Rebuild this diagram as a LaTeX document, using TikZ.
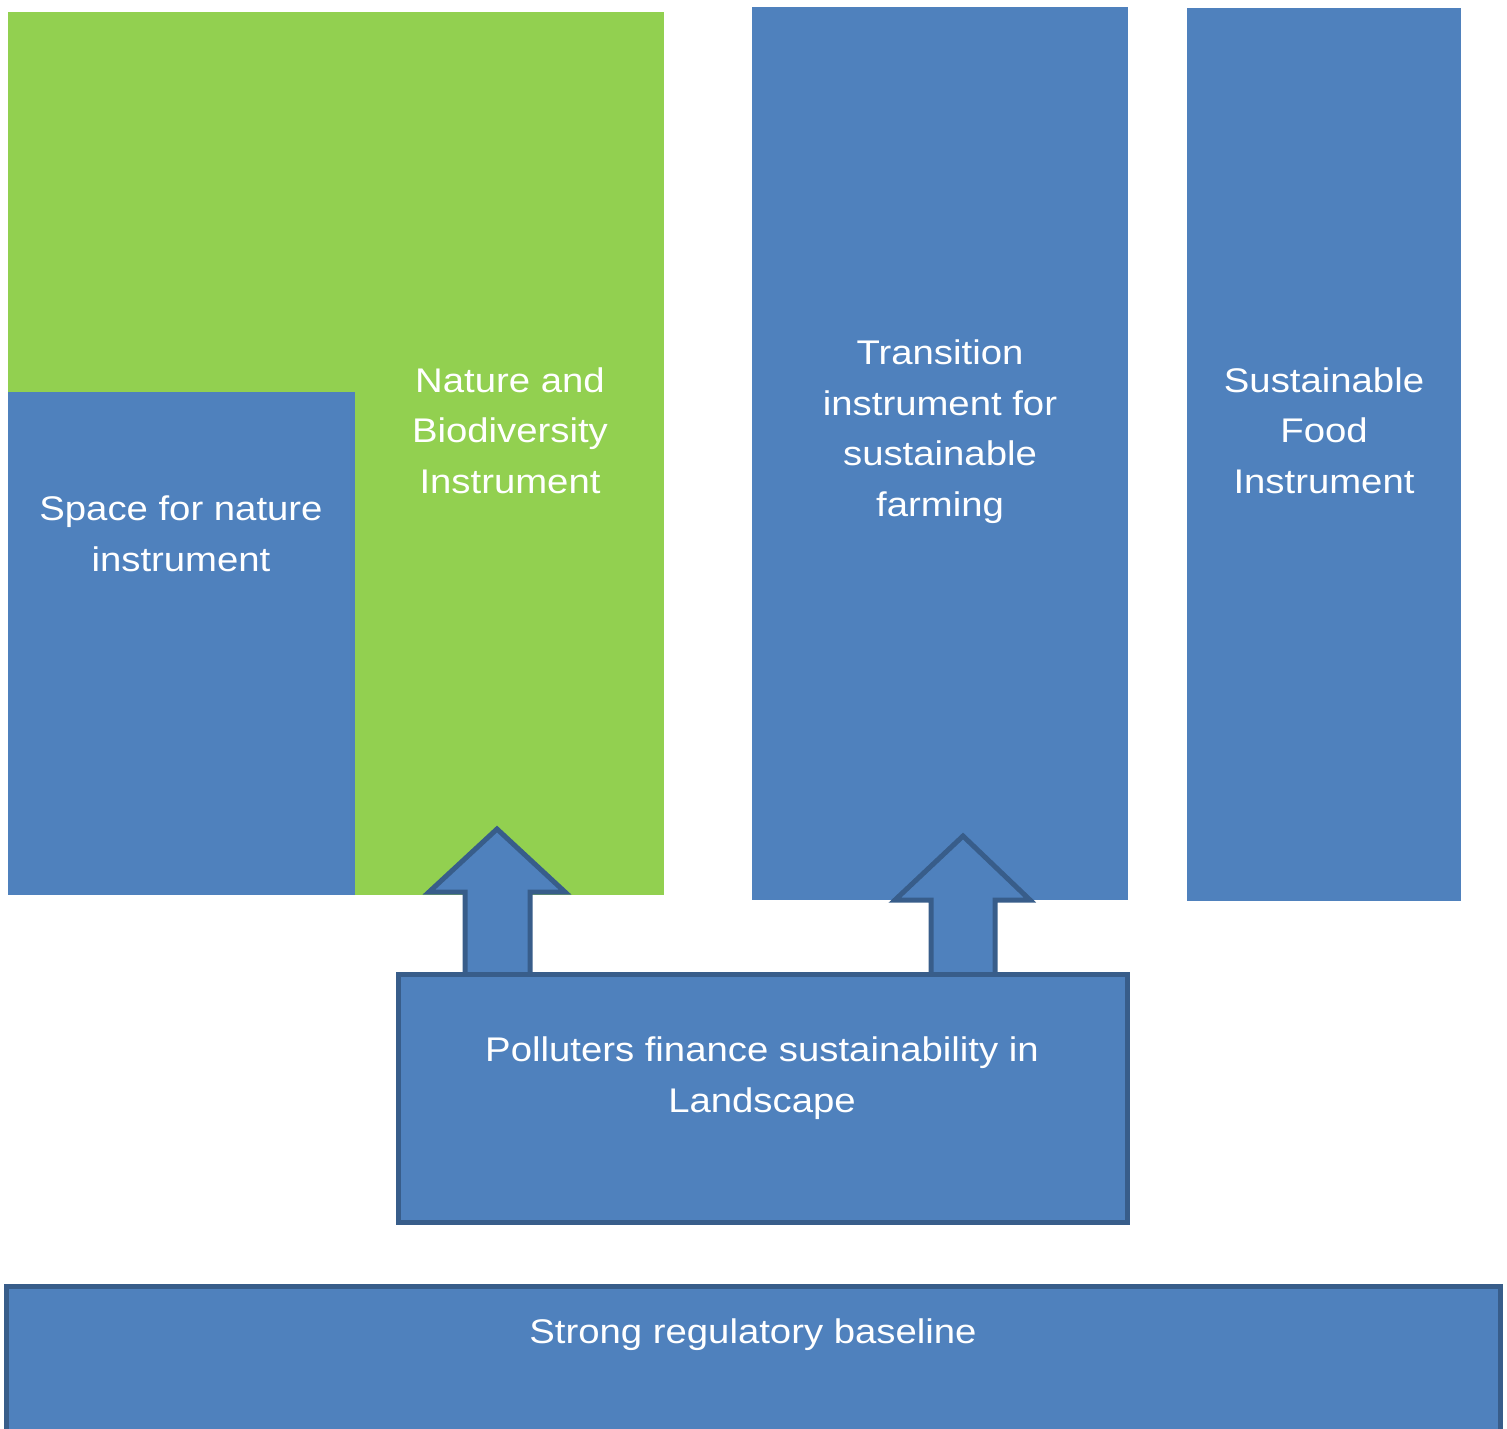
\documentclass[tikz,border=0pt]{standalone}
\usepackage{fontspec}
\setmainfont{Liberation Sans}[FakeStretch=1.12]
\begin{document}
\begin{tikzpicture}[x=1pt,y=-1pt,
  fillblue/.style={fill=instblue,draw=none},
  fillgreen/.style={fill=instgreen,draw=none},
  framed/.style={fill=instblue,draw=edgeblue,line width=5pt},
  uparrow/.style={fill=instblue,draw=edgeblue,line width=5pt,line join=miter},
  lbl/.style={text=white,align=center,inner sep=0pt,anchor=base,
    font=\fontsize{34.2}{50.5}\selectfont}]
\definecolor{instblue}{RGB}{79,129,189}
\definecolor{instgreen}{RGB}{146,208,80}
\definecolor{edgeblue}{RGB}{56,93,138}
\useasboundingbox (0,0) rectangle (1507,1428);
\clip (0,0) rectangle (1507,1428);

% instrument columns
\path[fillgreen] (8,12) rectangle (664,895);
\node[fillblue,anchor=north west,minimum width=347pt,minimum height=503pt,inner sep=0pt]
  (space) at (8,392) {};
\node[fillgreen,anchor=north west,minimum width=309pt,minimum height=883pt,inner sep=0pt]
  (nature) at (355,12) {};
\node[fillblue,anchor=north west,minimum width=376pt,minimum height=893pt,inner sep=0pt]
  (transition) at (752,7) {};
\node[fillblue,anchor=north west,minimum width=274pt,minimum height=893pt,inner sep=0pt]
  (food) at (1187,8) {};

% block arrows rising from the polluters box
\draw[uparrow] (465,975) -- (465,892) -- (429,892) -- (497,829) -- (565,892)
  -- (530,892) -- (530,975);
\draw[uparrow] (931,975) -- (931,900) -- (895,900) -- (963,836) -- (1030,900)
  -- (995,900) -- (995,975);

% polluters finance box and regulatory baseline
\node[framed,anchor=north west,minimum width=729pt,minimum height=248pt,inner sep=0pt,
  outer sep=0pt] (polluters) at (398.5,974.5) {};
\node[framed,anchor=north west,minimum width=1494pt,minimum height=200pt,inner sep=0pt,
  outer sep=0pt] (baseline) at (6.5,1286.5) {};

% labels (anchored at the baseline of their last line)
\node[lbl] (spacetxt) at (181,571) {Space for nature\\instrument};
\node[lbl] (naturetxt) at (510,493) {Nature and\\Biodiversity\\Instrument};
\node[lbl] (transtxt) at (940,516) {Transition\\instrument for\\sustainable\\farming};
\node[lbl] (foodtxt) at (1324,493) {Sustainable\\Food\\Instrument};
\node[lbl] (poltxt) at (762,1112) {Polluters finance sustainability in\\Landscape};
\node[lbl] (basetxt) at (753,1343) {Strong regulatory baseline};
\end{tikzpicture}
\end{document}
